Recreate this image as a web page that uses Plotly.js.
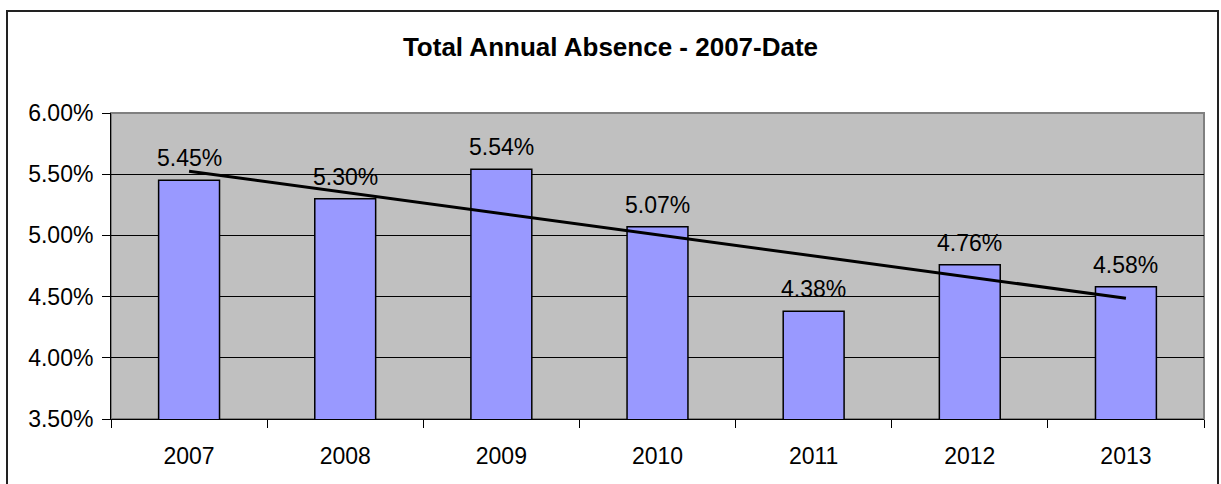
<!DOCTYPE html>
<html><head><meta charset="utf-8">
<script src="https://cdn.plot.ly/plotly-3.0.1.min.js"></script>
<style>html,body{margin:0;padding:0;background:#fff}#chart{width:1221px;height:484px}</style>
</head><body><div id="chart"></div>
<script>
var years = ['2007','2008','2009','2010','2011','2012','2013'];
var absence = [0.0545, 0.0530, 0.0554, 0.0507, 0.0438, 0.0476, 0.0458];
var labels = ['5.45%','5.30%','5.54%','5.07%','4.38%','4.76%','4.58%'];
var trendX = ['2007','2013'];
var trendY = [0.05525, 0.04486];

var FONT = 'Arial, "Liberation Sans", sans-serif';

var bars = {
  type: 'bar', x: years, y: absence,
  marker: {color: '#9999FF', line: {color: '#000', width: 1.5}},
  hoverinfo: 'skip', showlegend: false
};
var trend = {
  type: 'scatter', mode: 'lines', x: trendX, y: trendY,
  line: {color: '#000', width: 3}, hoverinfo: 'skip', showlegend: false
};

var annotations = years.map(function (yr, i) {
  return {x: i, y: absence[i], text: labels[i], showarrow: false,
    xref: 'x', yref: 'y', yanchor: 'bottom', yshift: 7,
    font: {family: FONT, size: 23, color: '#000'}};
});

var L = 111, R = 1204, T = 113, B = 419, W = 1221, H = 484;
var pw = R - L, ph = B - T;

var layout = {
  width: W, height: H,
  margin: {l: L, r: W - R, t: T, b: H - B, pad: 0},
  paper_bgcolor: '#fff', plot_bgcolor: '#C0C0C0',
  font: {family: FONT, size: 23, color: '#000'},
  title: {text: '<b>Total Annual Absence - 2007-Date</b>', font: {family: FONT, size: 26, color: '#000'},
    x: 0.5, xanchor: 'center', xref: 'container', y: 1 - 47 / H, yanchor: 'middle', yref: 'container'},
  bargap: 0.61,
  xaxis: {type: 'category', categoryorder: 'array', categoryarray: years,
    range: [-0.5, years.length - 0.5],
    tickson: 'boundaries', ticks: 'outside', ticklen: 8, tickcolor: '#000', tickangle: 0,
    ticklabelstandoff: 16,
    showline: true, linecolor: '#000', linewidth: 1, showgrid: false, zeroline: false,
    tickfont: {family: FONT, size: 23, color: '#000'}, fixedrange: true},
  yaxis: {range: [0.035, 0.06], dtick: 0.005, tick0: 0.035, tickformat: '.2%',
    ticks: 'outside', ticklen: 8, tickcolor: '#000', showline: true, linecolor: '#000', linewidth: 1,
    showgrid: true, gridcolor: '#000', gridwidth: 1, zeroline: false,
    tickfont: {family: FONT, size: 23, color: '#000'}, ticklabelstandoff: 4, fixedrange: true},
  annotations: annotations,
  shapes: [
    {type: 'rect', xref: 'paper', yref: 'paper', x0: 0, x1: 1, y0: 0, y1: 1,
      line: {color: '#808080', width: 2}, layer: 'below'},
    {type: 'rect', xref: 'paper', yref: 'paper',
      x0: (7 - L) / pw, x1: (1218 - L) / pw, y0: (B - 495) / ph, y1: (B - 11) / ph,
      line: {color: '#222', width: 2}, fillcolor: 'rgba(0,0,0,0)', layer: 'above'}
  ]
};

Plotly.newPlot('chart', [bars, trend], layout, {displayModeBar: false, staticPlot: true});
</script></body></html>
